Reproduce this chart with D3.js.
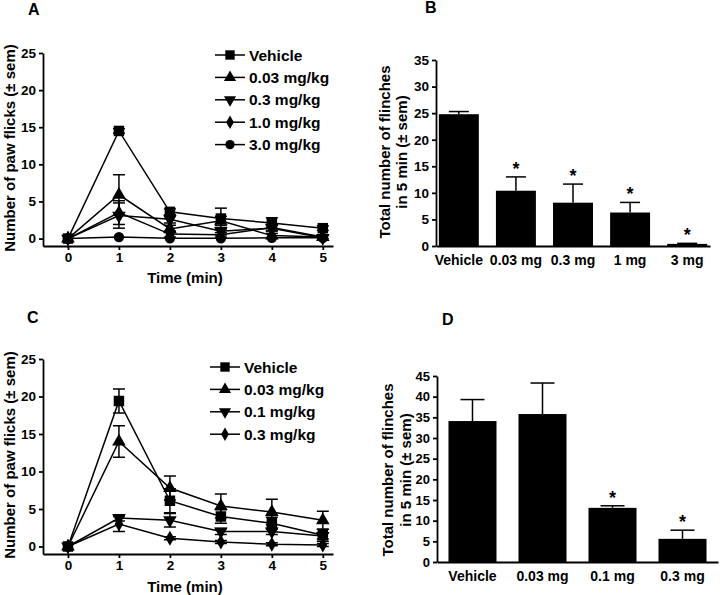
<!DOCTYPE html>
<html lang="en">
<head>
<meta charset="utf-8">
<title>Paw flicks and flinches by dose</title>
<script src="https://cdn.jsdelivr.net/npm/d3@7"></script>
<style>
	body { margin: 0; background: #fff; }
	svg text { font-family: "Liberation Sans", Arial, sans-serif; font-weight: bold; fill: #000; }
	.axis path, .axis line { fill: none; stroke: #000; stroke-width: 1.8; }
	.axis text { font-size: 13.5px; }
	.line { fill: none; stroke: #000; stroke-width: 1.5; }
	.err { stroke: #000; stroke-width: 1.5; }
</style>
</head>
<body>
<div id="chart"></div>
<script>
//// ---------- data ----------
var timePoints = [0, 1, 2, 3, 4, 5];
var timeTicks = [0, 1, 2, 3, 4, 5];

// panel A : time course, doses in mg/kg
var seriesA = ["Vehicle", "0.03 mg/kg", "0.3 mg/kg", "1.0 mg/kg", "3.0 mg/kg"];
var vehicleA = [0, 14.5, 3.6, 2.7, 2.1, 1.4];
var dose003A = [0, 5.9, 1.3, 2.4, 0.4, 0.2];
var dose03A  = [0, 3.1, 2.6, 1.0, 1.4, 0.1];
var dose10A  = [0, 3.5, 0.6, 0.5, 1.5, 0.2];
var dose30A  = [0, 0.2, 0.05, 0.05, 0.1, 0.1];
var vehicleErrA = [0, 0.3, 0.4, 1.4, 0.7, 0.3];
var dose003ErrA = [0, 2.7, 0.5, 0.6, 0.3, 0.2];
var dose03ErrA  = [0, 1.7, 0.5, 0.5, 0.4, 0.1];
var dose10ErrA  = [0, 1.6, 0.4, 0.3, 0.4, 0.1];
var dose30ErrA  = [0, 0.1, 0.05, 0.05, 0.1, 0.1];

// panel B : totals over 5 min
var categoriesB = ["Vehicle", "0.03 mg", "0.3 mg", "1 mg", "3 mg"];
var totalsB = [24.8, 10.4, 8.15, 6.3, 0.4];
var totalsErrB = [0.5, 2.6, 3.5, 1.9, 0.1];
var signifB = [false, true, true, true, true];

// panel C : time course, second compound
var seriesC = ["Vehicle", "0.03 mg/kg", "0.1 mg/kg", "0.3 mg/kg"];
var vehicleC = [0, 19.4, 6.1, 4.0, 3.1, 1.5];
var dose003C = [0, 14.0, 7.8, 5.4, 4.6, 3.5];
var dose01C  = [0, 3.8, 3.5, 2.0, 2.0, 1.4];
var dose03C  = [0, 3.0, 1.1, 0.6, 0.3, 0.2];
var vehicleErrC = [0, 1.6, 1.6, 0.9, 0.8, 0.8];
var dose003ErrC = [0, 2.1, 1.6, 1.6, 1.7, 1.2];
var dose01ErrC  = [0, 0.4, 0.9, 0.4, 0.4, 0.4];
var dose03ErrC  = [0, 1.0, 0.2, 0.2, 0.2, 0.2];

// panel D : totals over 5 min, second compound
var categoriesD = ["Vehicle", "0.03 mg", "0.1 mg", "0.3 mg"];
var totalsD = [34.1, 35.8, 13.1, 5.6];
var totalsErrD = [5.2, 7.5, 0.5, 2.1];
var signifD = [false, false, true, true];

var yTicksLine = [0, 5, 10, 15, 20, 25];
var yTicksB = [0, 5, 10, 15, 20, 25, 30, 35];
var yTicksD = [0, 5, 10, 15, 20, 25, 30, 35, 40, 45];

var w = 720, h = 595;

var svg = d3.select("#chart")
	.append("svg")
	.attr("width", w)
	.attr("height", h);

svg.append("rect").attr("width", w).attr("height", h).attr("fill", "#fff");

//// marker shapes per series
var symSquare = { type: d3.symbolSquare, size: 110, rot: 0 };
var symUp = { type: d3.symbolTriangle, size: 80, rot: 0 };
var symDown = { type: d3.symbolTriangle, size: 80, rot: 180 };
var symDiamond = { type: d3.symbolDiamond, size: 65, rot: 0 };
var symCircle = { type: d3.symbolCircle, size: 85, rot: 0 };

function panelLetter(x, y, t) {
	svg.append("text")
		.attr("x", x).attr("y", y)
		.style("font-size", "16px")
		.text(t);
}

function drawLinePanel(o) {
	var x = d3.scaleLinear().domain([-0.49, 5.2]).range([43, 333]);
	var y = d3.scaleLinear().domain([-1, 25]).range([o.bottom, o.top]);

	svg.append("g")
		.attr("class", "axis")
		.attr("transform", "translate(43,0)")
		.call(d3.axisLeft(y).tickValues(yTicksLine).tickSize(4).tickSizeOuter(0).tickPadding(3));

	svg.append("g")
		.attr("class", "axis")
		.attr("transform", "translate(0," + o.bottom + ")")
		.call(d3.axisBottom(x).tickValues(timeTicks).tickFormat(d3.format("d"))
			.tickSize(4).tickSizeOuter(0).tickPadding(2));

	var line = d3.line()
		.x(function (d, i) { return x(timePoints[i]); })
		.y(function (d) { return y(d); });

	// lines
	o.values.forEach(function (vals) {
		svg.append("path").attr("class", "line").attr("d", line(vals));
	});

	// error bars (both directions)
	o.values.forEach(function (vals, s) {
		var errs = o.errors[s];
		vals.forEach(function (v, i) {
			if (errs[i] < 0.15) return;
			var cx = x(timePoints[i]);
			var g = svg.append("g").attr("class", "err");
			g.append("line").attr("x1", cx).attr("x2", cx)
				.attr("y1", y(v - errs[i])).attr("y2", y(v + errs[i]));
			[v - errs[i], v + errs[i]].forEach(function (e) {
				g.append("line").attr("x1", cx - 6).attr("x2", cx + 6)
					.attr("y1", y(e)).attr("y2", y(e));
			});
		});
	});

	// markers
	o.values.forEach(function (vals, s) {
		var sym = o.symbols[s];
		svg.append("g").selectAll("path")
			.data(vals).enter()
			.append("path")
			.attr("d", d3.symbol().type(sym.type).size(sym.size))
			.attr("transform", function (d, i) {
				return "translate(" + x(timePoints[i]) + "," + y(d) + ") rotate(" + sym.rot + ")";
			})
			.attr("fill", "#000");
	});

	// legend
	var leg = svg.selectAll(null)
		.data(o.names).enter()
		.append("g")
		.attr("transform", function (d, i) { return "translate(" + o.legX + "," + (o.legY + i * 22.4) + ")"; });
	leg.append("line")
		.attr("x1", 0).attr("x2", 30).attr("y1", 0).attr("y2", 0)
		.attr("stroke", "#000").attr("stroke-width", 1.5);
	leg.append("path")
		.attr("d", function (d, i) { return d3.symbol().type(o.symbols[i].type).size(o.symbols[i].size * 0.8)(); })
		.attr("transform", function (d, i) { return "translate(15,0) rotate(" + o.symbols[i].rot + ")"; })
		.attr("fill", "#000");
	leg.append("text")
		.attr("x", 34).attr("y", 5.5)
		.style("font-size", "15.5px")
		.text(function (d) { return d; });

	// axis titles
	svg.append("text")
		.attr("transform", "translate(14.5," + o.yTitleMid + ") rotate(-90)")
		.attr("text-anchor", "middle")
		.style("font-size", "15px")
		.text("Number of paw flicks (\u00b1 sem)");
	svg.append("text")
		.attr("x", 185).attr("y", o.xTitleY)
		.attr("text-anchor", "middle")
		.style("font-size", "15px")
		.text("Time (min)");
}

function drawBarPanel(o) {
	var x = d3.scaleBand()
		.domain(o.categories)
		.range([o.left, o.right])
		.paddingInner(o.padIn)
		.paddingOuter(o.padOut);
	var y = d3.scaleLinear().domain([0, o.max]).range([o.bottom, o.top]);

	svg.append("g")
		.attr("class", "axis")
		.attr("transform", "translate(" + o.left + ",0)")
		.call(d3.axisLeft(y).tickValues(o.ticks).tickSize(4).tickSizeOuter(0).tickPadding(3))
		.selectAll("text").style("font-size", o.tickFont);

	// error bars (upper only)
	o.values.forEach(function (v, i) {
		var cx = x(o.categories[i]) + x.bandwidth() / 2;
		var top = y(v + o.errors[i]);
		svg.append("line").attr("class", "err")
			.attr("x1", cx).attr("x2", cx).attr("y1", y(v)).attr("y2", top);
		svg.append("line").attr("class", "err")
			.attr("x1", cx - x.bandwidth() / 4).attr("x2", cx + x.bandwidth() / 4)
			.attr("y1", top).attr("y2", top);
		if (o.signif[i]) {
			svg.append("text")
				.attr("x", cx).attr("y", top - 2)
				.attr("text-anchor", "middle")
				.style("font-size", "18px")
				.text("*");
		}
	});

	svg.append("g").selectAll("rect")
		.data(o.values).enter()
		.append("rect")
		.attr("x", function (d, i) { return x(o.categories[i]); })
		.attr("y", function (d) { return y(d); })
		.attr("width", x.bandwidth())
		.attr("height", function (d) { return o.bottom - y(d); })
		.attr("fill", "#000");

	svg.append("g")
		.attr("class", "axis")
		.attr("transform", "translate(0," + o.bottom + ")")
		.call(d3.axisBottom(x).tickSize(0).tickSizeOuter(0).tickPadding(9))
		.selectAll("text").style("font-size", "14px");

	// two-line y title
	svg.append("text")
		.attr("transform", "translate(" + o.titleX1 + "," + o.titleMid + ") rotate(-90)")
		.attr("text-anchor", "middle")
		.style("font-size", "15px")
		.text("Total number of flinches");
	svg.append("text")
		.attr("transform", "translate(" + o.titleX2 + "," + o.titleMid + ") rotate(-90)")
		.attr("text-anchor", "middle")
		.style("font-size", "15px")
		.text(o.title2);
}

//// A
drawLinePanel({
	top: 53, bottom: 246,
	names: seriesA,
	values: [vehicleA, dose003A, dose03A, dose10A, dose30A],
	errors: [vehicleErrA, dose003ErrA, dose03ErrA, dose10ErrA, dose30ErrA],
	symbols: [symSquare, symUp, symDown, symDiamond, symCircle],
	legX: 215, legY: 55,
	yTitleMid: 148, xTitleY: 283
});
panelLetter(28, 15, "A");

//// B
drawBarPanel({
	categories: categoriesB, values: totalsB, errors: totalsErrB, signif: signifB,
	left: 436, right: 710, padIn: 0.3, padOut: 0.05,
	top: 60, bottom: 246, max: 35, ticks: yTicksB, tickFont: "13.5px",
	titleX1: 390, titleX2: 407, titleMid: 152,
	title2: "in 5 min  (\u00b1 sem)"
});
panelLetter(425, 13, "B");

//// C
drawLinePanel({
	top: 359, bottom: 554,
	names: seriesC,
	values: [vehicleC, dose003C, dose01C, dose03C],
	errors: [vehicleErrC, dose003ErrC, dose01ErrC, dose03ErrC],
	symbols: [symSquare, symUp, symDown, symDiamond],
	legX: 210, legY: 367,
	yTitleMid: 455, xTitleY: 592
});
panelLetter(27, 323, "C");

//// D
drawBarPanel({
	categories: categoriesD, values: totalsD, errors: totalsErrD, signif: signifD,
	left: 437, right: 718, padIn: 0.314, padOut: 0.164,
	top: 376, bottom: 562, max: 45, ticks: yTicksD, tickFont: "13px",
	titleX1: 393, titleX2: 411, titleMid: 470,
	title2: "in 5 min (\u00b1 sem)"
});
panelLetter(442, 325, "D");
</script>
</body>
</html>
